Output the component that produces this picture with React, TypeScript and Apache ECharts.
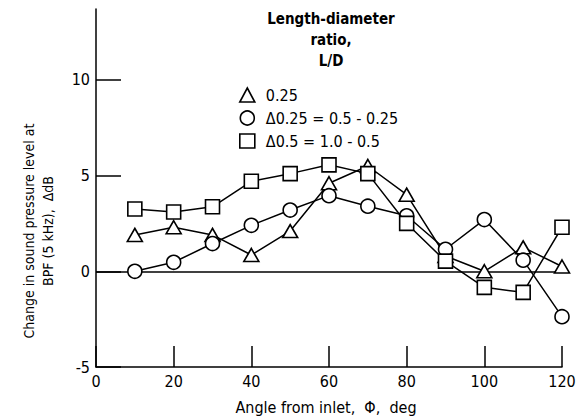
import React, { useEffect, useRef } from "react";
import * as echarts from "echarts";

const angles = [10, 20, 30, 40, 50, 60, 70, 80, 90, 100, 110, 120];
const ld025 = [1.9, 2.3, 1.9, 0.85, 2.1, 4.6, 5.5, 4.0, 0.8, 0.0, 1.25, 0.25];
const delta025 = [0.0, 0.47, 1.45, 2.4, 3.2, 3.95, 3.4, 2.9, 1.15, 2.7, 0.58, -2.37];
const delta05 = [3.25, 3.1, 3.37, 4.7, 5.1, 5.56, 5.1, 2.5, 0.53, -0.84, -1.1, 2.3];
const seriesNames = ["0.25", "Δ0.25 = 0.5 - 0.25", "Δ0.5 = 1.0 - 0.5"];
const seriesSymbols = ["triangle", "circle", "rect"];
const yTicks = [-5, 0, 5, 10];
const xTicks = [0, 20, 40, 60, 80, 100, 120];
const legendTitle = "Length-diameter\nratio,\nL/D";
const xName = "Angle from inlet,  Φ,  deg";
const yName = "Change in sound pressure level at\nBPF (5 kHz),  ΔdB";

const FONT = "'DejaVu Sans Condensed', 'Liberation Sans Narrow', 'DejaVu Sans', sans-serif";

export default function App() {
  const ref = useRef<HTMLDivElement>(null);
  useEffect(() => {
    if (!ref.current) return;
    const chart = echarts.init(ref.current, undefined, { renderer: "svg" });
    const allData = [ld025, delta025, delta05];
    const series: any[] = allData.map((vals, i) => ({
      name: seriesNames[i],
      type: "line",
      data: angles.map((a, j) => [a, vals[j]]),
      symbol: seriesSymbols[i],
      symbolSize: i === 0 ? [15, 13] : 14,
      showAllSymbol: true,
      itemStyle: { color: "#fff", borderColor: "#000", borderWidth: 1.6 },
      lineStyle: { color: "#000", width: 1.5 },
      emphasis: { disabled: true },
      z: 3 + i,
      ...(i === 0
        ? {
            markLine: {
              silent: true,
              symbol: ["none", "none"],
              label: { show: false },
              lineStyle: { color: "#000", width: 1.5, type: "solid" },
              data: [{ yAxis: 0 }],
              z: 1,
            },
          }
        : {}),
    }));
    chart.setOption({
      animation: false,
      backgroundColor: "#fff",
      textStyle: { fontFamily: FONT, color: "#000" },
      grid: { left: 96, right: 26, top: 9, bottom: 51 },
      xAxis: {
        type: "value",
        min: 0,
        max: 120,
        interval: 20,
        axisLine: { show: true, onZero: false, lineStyle: { color: "#000", width: 1.5 } },
        axisTick: {
          show: true,
          inside: true,
          length: 21,
          lineStyle: { color: "#000", width: 1.5 },
          customValues: xTicks,
        },
        axisLabel: {
          color: "#000",
          fontSize: 16,
          fontFamily: FONT,
          margin: 6,
          customValues: xTicks,
        },
        splitLine: { show: false },
      },
      yAxis: {
        type: "value",
        min: -5,
        max: 13.7,
        interval: 5,
        axisLine: { show: true, onZero: false, lineStyle: { color: "#000", width: 1.5 } },
        axisTick: {
          show: true,
          inside: true,
          length: 25,
          lineStyle: { color: "#000", width: 1.5 },
          customValues: yTicks,
        },
        axisLabel: {
          color: "#000",
          fontSize: 16,
          fontFamily: FONT,
          margin: 6,
          customValues: yTicks,
        },
        splitLine: { show: false },
      },
      legend: {
        orient: "vertical",
        left: 234,
        top: 82,
        itemWidth: 15,
        itemHeight: 14,
        itemGap: 7,
        selectedMode: false,
        textStyle: { fontSize: 16, fontFamily: FONT, color: "#000", padding: [0, 0, 0, 6] },
        data: seriesNames.map((n, i) => ({
          name: n,
          icon: seriesSymbols[i],
          itemStyle: { color: "#fff", borderColor: "#000", borderWidth: 1.6 },
        })),
      },
      graphic: [
        {
          type: "text",
          x: 331,
          y: 8,
          style: {
            text: legendTitle,
            fontSize: 15,
            fontWeight: "bold",
            fontFamily: FONT,
            lineHeight: 21,
            fill: "#000",
            textAlign: "center",
          },
        },
        {
          type: "text",
          x: 326,
          y: 407,
          style: {
            text: xName,
            fontSize: 16,
            fontFamily: FONT,
            fill: "#000",
            textAlign: "center",
            textVerticalAlign: "middle",
          },
        },
        {
          type: "text",
          x: 38,
          y: 231,
          rotation: Math.PI / 2,
          style: {
            text: yName,
            fontSize: 14,
            fontFamily: FONT,
            lineHeight: 19,
            fill: "#000",
            textAlign: "center",
            textVerticalAlign: "middle",
          },
        },
      ],
      series,
    });
    return () => chart.dispose();
  }, []);
  return (
    <div
      ref={ref}
      style={{ position: "fixed", left: 0, top: 0, width: 588, height: 418 }}
    />
  );
}
